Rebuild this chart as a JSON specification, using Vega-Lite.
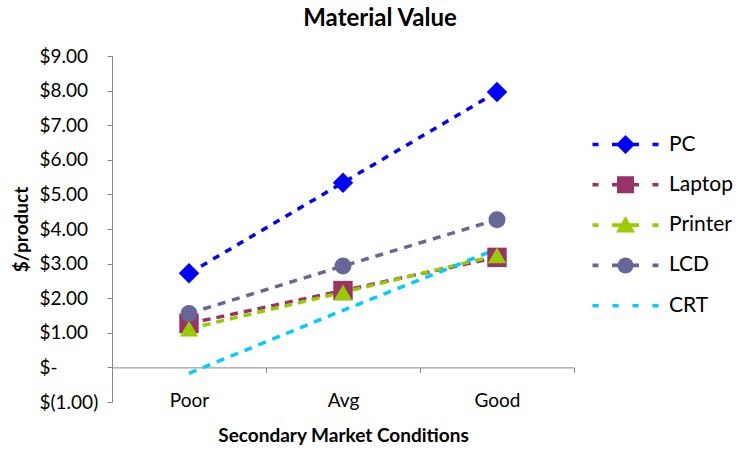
{
  "$schema": "https://vega.github.io/schema/vega-lite/v6.json",
  "width": 462,
  "height": 346,
  "autosize": {"type": "none"},
  "padding": {"left": 112, "top": 56, "right": 166, "bottom": 50},
  "background": "white",
  "config": {
    "view": {"stroke": null},
    "font": "Lato",
    "axis": {"grid": false}
  },
  "title": {
    "text": "Material Value",
    "font": "Lato",
    "fontSize": 24,
    "fontWeight": "bold",
    "color": "#000000",
    "anchor": "middle",
    "dx": 37,
    "offset": -3,
    "baseline": "alphabetic"
  },
  "data": {
    "values": [
      {"cond": "Poor", "series": "PC", "value": 2.72},
      {"cond": "Avg", "series": "PC", "value": 5.34},
      {"cond": "Good", "series": "PC", "value": 7.96},
      {"cond": "Poor", "series": "Laptop", "value": 1.27},
      {"cond": "Avg", "series": "Laptop", "value": 2.22},
      {"cond": "Good", "series": "Laptop", "value": 3.18},
      {"cond": "Poor", "series": "Printer", "value": 1.12},
      {"cond": "Avg", "series": "Printer", "value": 2.17},
      {"cond": "Good", "series": "Printer", "value": 3.24},
      {"cond": "Poor", "series": "LCD", "value": 1.56},
      {"cond": "Avg", "series": "LCD", "value": 2.93},
      {"cond": "Good", "series": "LCD", "value": 4.27},
      {"cond": "Poor", "series": "CRT", "value": -0.17},
      {"cond": "Avg", "series": "CRT", "value": 1.65},
      {"cond": "Good", "series": "CRT", "value": 3.42}
    ]
  },
  "encoding": {
    "x": {
      "field": "cond",
      "type": "ordinal",
      "sort": ["Poor", "Avg", "Good"],
      "scale": {"type": "band", "paddingInner": 0, "paddingOuter": 0},
      "axis": {
        "title": "Secondary Market Conditions",
        "titleFont": "Lato",
        "titleFontSize": 19,
        "titleFontWeight": "bold",
        "titleColor": "#000000",
        "titlePadding": 16,
        "labelAngle": 0,
        "labelFont": "Lato",
        "labelFontSize": 19,
        "labelColor": "#000000",
        "labelPadding": 19,
        "offset": -34.6,
        "tickBand": "extent",
        "tickSize": 5,
        "tickColor": "#868686",
        "domainColor": "#868686",
        "domainWidth": 1
      }
    },
    "y": {
      "field": "value",
      "type": "quantitative",
      "scale": {"domain": [-1, 9], "nice": false, "zero": false},
      "axis": {
        "title": "$/product",
        "titleFont": "Lato",
        "titleFontSize": 19,
        "titleFontWeight": "bold",
        "titleColor": "#000000",
        "titleX": -91,
        "titleY": 173,
        "titleAngle": -90,
        "titleAlign": "center",
        "titleBaseline": "middle",
        "values": [-1, 0, 1, 2, 3, 4, 5, 6, 7, 8, 9],
        "labelExpr": "datum.value == 0 ? '$-' : (datum.value < 0 ? '$(' + format(-datum.value, '.2f') + ')' : '$' + format(datum.value, '.2f'))",
        "labelFont": "Lato",
        "labelFontSize": 19,
        "labelColor": "#000000",
        "labelAlign": "left",
        "labelPadding": 68,
        "tickSize": 5,
        "tickColor": "#868686",
        "domainColor": "#868686"
      }
    },
    "color": {
      "field": "series",
      "type": "nominal",
      "scale": {
        "domain": ["PC", "Laptop", "Printer", "LCD", "CRT"],
        "range": ["#0000FF", "#993366", "#99CC00", "#666699", "#00CCFF"]
      },
      "legend": {
        "title": null,
        "orient": "none",
        "legendX": 503,
        "legendY": 78,
        "padding": 0,
        "symbolSize": 400,
        "labelOffset": 33,
        "rowPadding": 18.3,
        "labelFont": "Lato",
        "labelFontSize": 21,
        "labelColor": "#000000",
        "encode": {
          "symbols": {
            "update": {
              "shape": {"signal": "datum.value === 'PC' ? 'M-3.3,-0.18H-2.7V0.18H-3.3ZM-1.35,-0.18H1.35V0.18H-1.35ZM2.7,-0.18H3.3V0.18H2.7ZM0,-0.95L0.95,0L0,0.95L-0.95,0Z' : datum.value === 'Laptop' ? 'M-3.3,-0.18H-2.7V0.18H-3.3ZM-1.35,-0.18H1.35V0.18H-1.35ZM2.7,-0.18H3.3V0.18H2.7ZM-0.85,-0.85H0.85V0.85H-0.85Z' : datum.value === 'Printer' ? 'M-3.3,-0.18H-2.7V0.18H-3.3ZM-1.35,-0.18H1.35V0.18H-1.35ZM2.7,-0.18H3.3V0.18H2.7ZM0,-0.9L0.95,0.75L-0.95,0.75Z' : datum.value === 'LCD' ? 'M-3.3,-0.18H-2.7V0.18H-3.3ZM-1.35,-0.18H1.35V0.18H-1.35ZM2.7,-0.18H3.3V0.18H2.7ZM-0.8,0A0.8,0.8 0 1,1 0.8,0A0.8,0.8 0 1,1 -0.8,0Z' : 'M-3.3,-0.18H-2.7V0.18H-3.3ZM-1.3,-0.18H-0.7V0.18H-1.3ZM0.7,-0.18H1.3V0.18H0.7ZM2.7,-0.18H3.3V0.18H2.7Z'"},
              "fill": {"signal": "scale('color', datum.value)"},
              "stroke": {"value": "transparent"},
              "strokeWidth": {"value": 0},
              "strokeDash": {"value": []},
              "opacity": {"value": 1},
              "size": {"value": 400}
            }
          }
        }
      }
    }
  },
  "layer": [
    {
      "mark": {"type": "line", "strokeWidth": 3.5},
      "encoding": {
        "detail": {"field": "series"},
        "strokeDash": {
          "field": "series",
          "type": "nominal",
          "scale": {
            "domain": ["PC", "Laptop", "Printer", "LCD", "CRT"],
            "range": [[7, 7], [8, 6], [8, 6], [8, 7], [8, 7]]
          },
          "legend": null
        }
      }
    },
    {
      "transform": [{"filter": "datum.series != 'CRT'"}],
      "mark": {"type": "point", "filled": true, "opacity": 1},
      "encoding": {
        "shape": {
          "field": "series",
          "type": "nominal",
          "scale": {
            "domain": ["PC", "Laptop", "Printer", "LCD"],
            "range": ["diamond", "square", "triangle-up", "circle"]
          },
          "legend": null
        },
        "size": {
          "field": "series",
          "type": "nominal",
          "scale": {
            "domain": ["PC", "Laptop", "Printer", "LCD"],
            "range": [420, 290, 330, 300]
          },
          "legend": null
        }
      }
    }
  ]
}
